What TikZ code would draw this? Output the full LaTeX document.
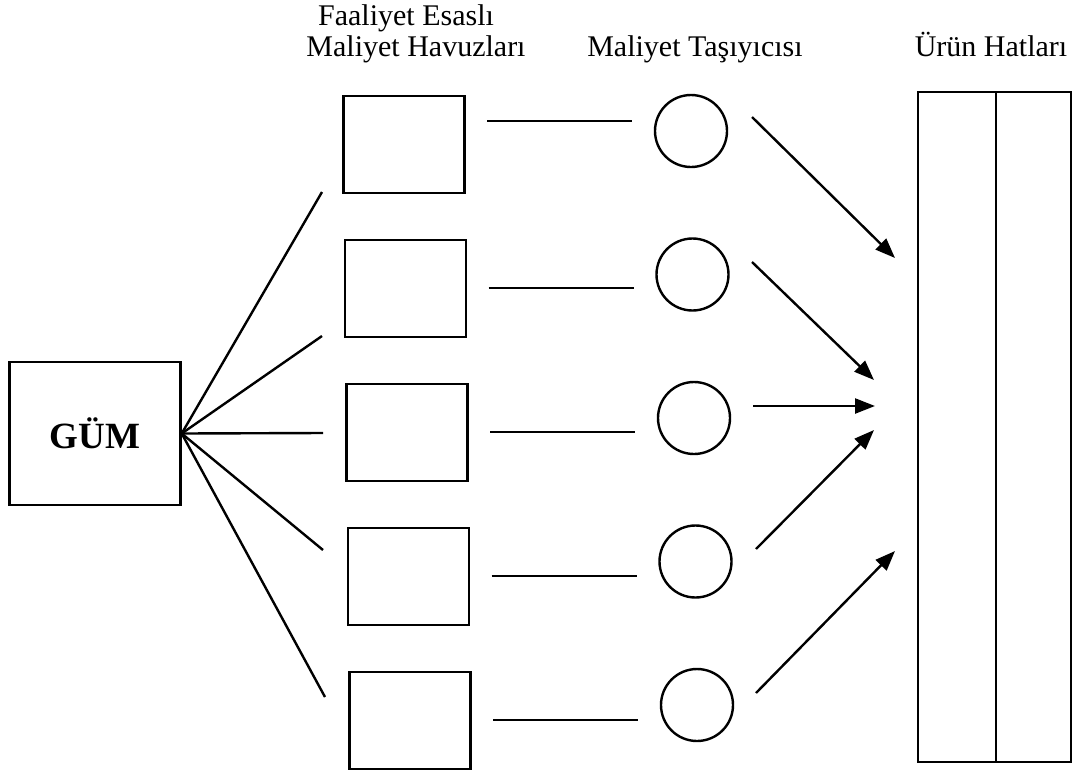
\documentclass[tikz,border=0pt]{standalone}
\usepackage{fontspec}
\setmainfont{Liberation Serif}
\usetikzlibrary{arrows.meta}
\begin{document}
\begin{tikzpicture}[x=1pt,y=-1pt,
  ln/.style={line width=2.4pt},
  pool/.style={draw,line width=2.4pt,minimum width=121pt,minimum height=97pt,inner sep=0pt},
  driver/.style={draw,circle,line width=2.4pt,minimum size=72pt,inner sep=0pt},
  lbl/.style={font=\fontsize{30}{36}\selectfont,anchor=base,inner sep=0pt},
  arr/.style={ln,-{Triangle[length=20pt,width=15pt]}}]
\useasboundingbox (0,0) rectangle (1089,774);

% column headings
\node[lbl] (h1a) at (406,25) {Faaliyet Esaslı};
\node[lbl] (h1b) at (416,56) {Maliyet Havuzları};
\node[lbl] (h2) at (695,56) {Maliyet Taşıyıcısı};
\node[lbl] (h3) at (991,56) {Ürün Hatları};

% overhead source
\node[draw,line width=2.4pt,minimum width=171pt,minimum height=143pt,inner sep=0pt,
      font=\fontsize{37}{40}\selectfont\bfseries] (gum) at (95,433.5) {GÜM};

% activity pools and cost drivers (rows drift slightly to the right going down)
\foreach \i in {1,...,5}{
  \node[pool] (pool\i) at ({404+1.5*(\i-1)},{144.5+144*(\i-1)}) {};
  \node[driver] (drv\i) at ({691+1.5*(\i-1)},{131+143.5*(\i-1)}) {};
}

% product lines
\node[draw,line width=2.4pt,minimum width=153pt,minimum height=670pt,inner sep=0pt] (prod) at (994.5,427) {};
\coordinate (divtop) at (996,92);
\coordinate (divbot) at (996,762);
\draw[ln] (divtop) -- (divbot);

% fan-out from the overhead box
\foreach \i/\x/\y in {1/322/192,2/322/336,3/323/433,4/323/550,5/325/697}{
  \coordinate (fan\i) at (\x,\y);
  \draw[ln] (gum.east) -- (fan\i);
}

% pool to driver links
\foreach \i/\y in {1/121,2/288,3/432,4/576,5/720}{
  \coordinate (la\i) at ({487+1.5*(\i-1)},\y);
  \coordinate (lb\i) at ({632+1.5*(\i-1)},\y);
  \draw[ln] (la\i) -- (lb\i);
}

% driver to product arrows
\coordinate (s1) at (752,117);  \coordinate (t1) at (895,258);
\coordinate (s2) at (752,262);  \coordinate (t2) at (874,380);
\coordinate (s3) at (753,406);  \coordinate (t3) at (875,406);
\coordinate (s4) at (756,549);  \coordinate (t4) at (874,430);
\coordinate (s5) at (756,693);  \coordinate (t5) at (895,551);
\foreach \i in {1,...,5}{
  \draw[arr] (s\i) -- (t\i);
}
\end{tikzpicture}
\end{document}
